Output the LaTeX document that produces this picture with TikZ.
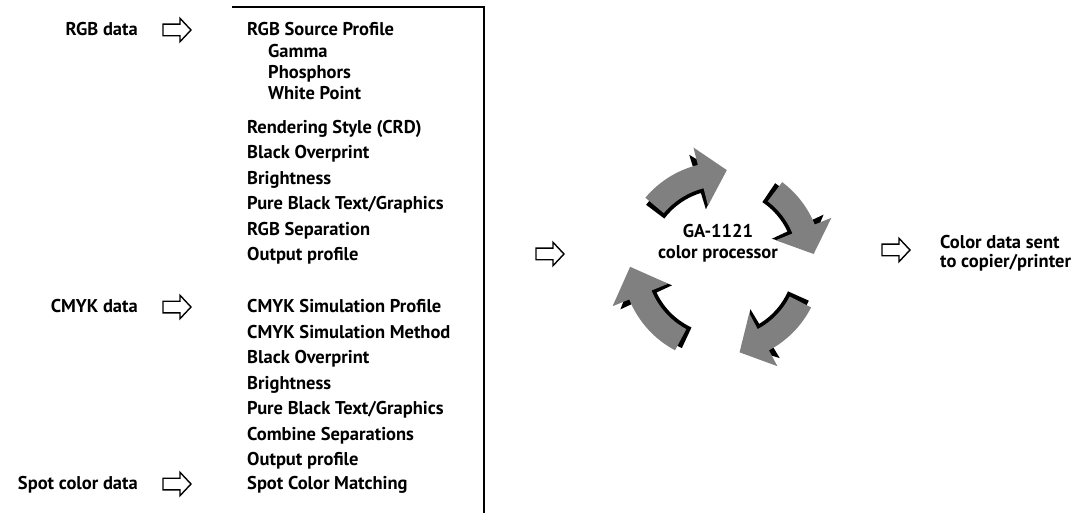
\documentclass[tikz,border=0pt]{standalone}
\usepackage{fontspec}
\setmainfont{PT Sans}
\definecolor{arrowgray}{RGB}{128,128,128}
\newcommand\cycarrow[4]{%
  \fill[#4] (#1:100pt) arc[start angle=#1, end angle=#2, radius=100pt]
    -- (#2:118pt) -- (#3:92pt) -- (#2:58pt) -- (#2:76pt)
    arc[start angle=#2, end angle=#1, radius=76pt] -- cycle;}
\newcommand\harrow[1]{%
  \draw[hollow, shift={(#1)}] (-14,5.8) -- (3,5.8) -- (3,11.7) -- (14,0)
    -- (3,-11.7) -- (3,-5.8) -- (-14,-5.8) -- cycle;}
\begin{document}
\begin{tikzpicture}[x=1pt,y=1pt,
  font=\fontsize{18.5}{21}\selectfont\bfseries,
  lbl/.style={anchor=base east, inner sep=0},
  item/.style={anchor=base west, inner sep=0},
  hollow/.style={draw=black, line width=1.4pt, fill=white, line join=miter}]
\useasboundingbox (0,0) rectangle (1082,-513);
\draw[line width=1.3pt] (232,-7) -- (484,-7) -- (484,-513);

% left labels
\node[lbl] (rgb) at (138,-35.5) {RGB data};
\node[lbl] (cmyk) at (138,-312.5) {CMYK data};
\node[lbl] (spot) at (138,-489.5) {Spot color data};
\coordinate (rgbA) at (177,-30);
\coordinate (cmykA) at (177,-307);
\coordinate (spotA) at (177,-484);
\harrow{rgbA}
\harrow{cmykA}
\harrow{spotA}

% RGB items
\node[item] (i1) at (247,-35.5) {RGB Source Profile};
\node[item] (i2) at (268,-57.5) {Gamma};
\node[item] (i3) at (268,-78.5) {Phosphors};
\node[item] (i4) at (268,-99.5) {White Point};
\node[item] (i5) at (247,-133.5) {Rendering Style (CRD)};
\node[item] (i6) at (247,-159) {Black Overprint};
\node[item] (i7) at (247,-184.5) {Brightness};
\node[item] (i8) at (247,-210) {Pure Black Text/Graphics};
\node[item] (i9) at (247,-235.5) {RGB Separation};
\node[item] (i10) at (247,-261) {Output profile};
% CMYK items
\node[item] (c1) at (247,-312.5) {CMYK Simulation Profile};
\node[item] (c2) at (247,-338) {CMYK Simulation Method};
\node[item] (c3) at (247,-363.5) {Black Overprint};
\node[item] (c4) at (247,-389) {Brightness};
\node[item] (c5) at (247,-414.5) {Pure Black Text/Graphics};
\node[item] (c6) at (247,-440) {Combine Separations};
\node[item] (c7) at (247,-465) {Output profile};
\node[item] (s1) at (247,-489.5) {Spot Color Matching};

% middle and output arrows
\coordinate (midA) at (550,-254);
\harrow{midA}
\coordinate (outA) at (896,-250);
\harrow{outA}

% processor
\node[align=center, inner sep=0] (proc) at (718,-243) {GA-1121\\color processor};
\node[anchor=west, align=left, inner sep=0, font=\fontsize{18.5}{19.5}\selectfont\bfseries] (out) at (940,-253) {Color data sent\\to copier/printer};

% cycle arrows
\begin{scope}[shift={(722,-262)}]
  \begin{scope}[rotate=3, scale=0.95]
    \cycarrow{140}{104}{87}{black}
    \cycarrow{53}{22}{5}{black}
    \cycarrow{-27}{-62}{-79}{black}
    \cycarrow{-118}{-158}{-177}{black}
  \end{scope}
  \cycarrow{140}{104}{87}{arrowgray}
  \cycarrow{53}{22}{5}{arrowgray}
  \cycarrow{-27}{-62}{-79}{arrowgray}
  \cycarrow{-118}{-158}{-177}{arrowgray}
\end{scope}
\end{tikzpicture}
\end{document}
